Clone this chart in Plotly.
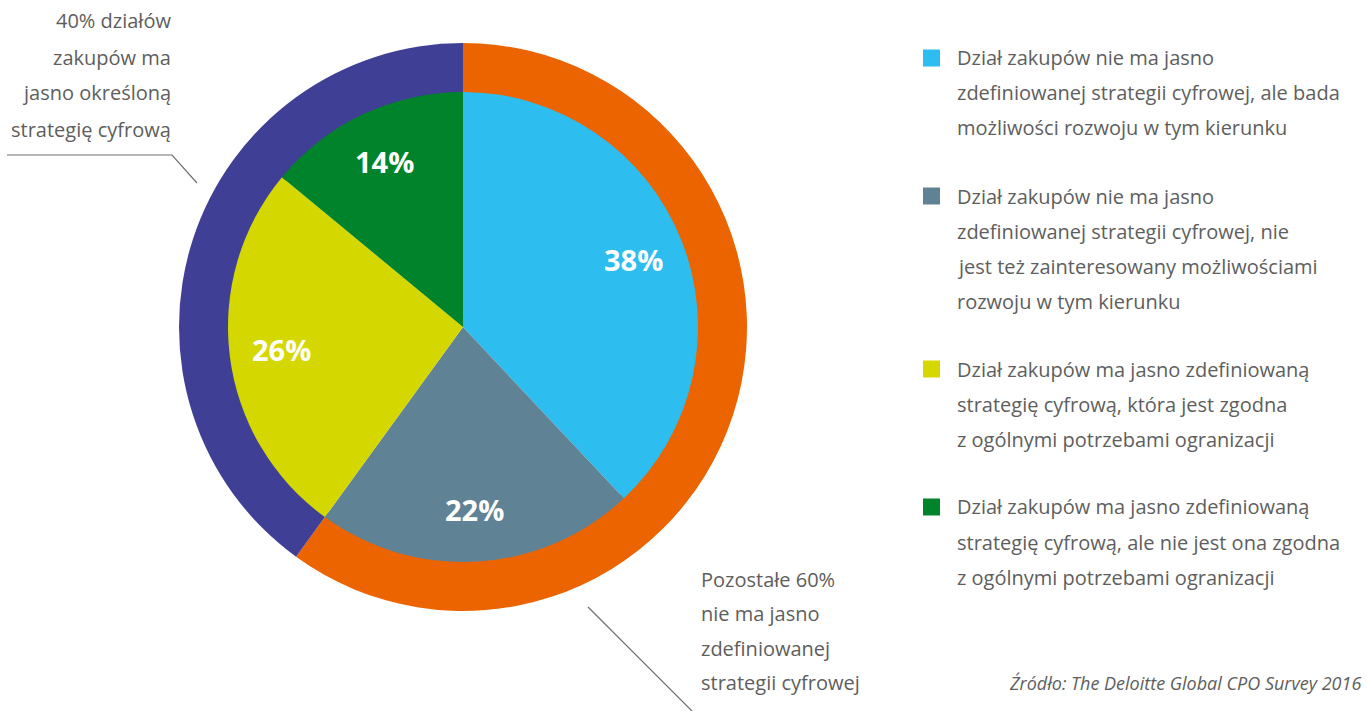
import math
import plotly.graph_objects as go

W, H = 1367, 711

# Inner pie: digital strategy of procurement departments
inner_labels = [
    "Dział zakupów nie ma jasno<br>zdefiniowanej strategii cyfrowej, ale bada<br>możliwości rozwoju w tym kierunku",
    "Dział zakupów nie ma jasno<br>zdefiniowanej strategii cyfrowej, nie<br>jest też zainteresowany możliwościami<br>rozwoju w tym kierunku",
    "Dział zakupów ma jasno zdefiniowaną<br>strategię cyfrową, która jest zgodna<br>z ogólnymi potrzebami ogranizacji",
    "Dział zakupów ma jasno zdefiniowaną<br>strategię cyfrową, ale nie jest ona zgodna<br>z ogólnymi potrzebami ogranizacji",
]
inner_values = [38, 22, 26, 14]
inner_colors = ["#2DBDEF", "#5F8295", "#D4D700", "#00832A"]

# Outer ring: with / without a clearly defined strategy
outer_labels = ["Pozostałe 60%", "40% działów"]
outer_values = [60, 40]
outer_colors = ["#EC6400", "#3F4095"]

left_note = ["40% działów", "zakupów ma", "jasno określoną", "strategię cyfrową"]
bottom_note = ["Pozostałe 60%", "nie ma jasno", "zdefiniowanej", "strategii cyfrowej"]
source_note = "Źródło: The Deloitte Global CPO Survey 2016"

FONT = "Open Sans"
TXT = "#5E5E5E"
FS = 20

cx, cy = 463, 327
r_out, r_in = 284, 235


def dom(r):
    return dict(x=[(cx - r) / W, (cx + r) / W],
                y=[(H - cy - r) / H, (H - cy + r) / H])


def px(x):
    return x / W


def py(y):
    return 1 - y / H


fig = go.Figure()
fig.add_trace(go.Pie(
    labels=outer_labels, values=outer_values, sort=False, direction="clockwise",
    rotation=0, hole=0.81, domain=dom(r_out), textinfo="none",
    marker=dict(colors=outer_colors, line=dict(width=0)), showlegend=False,
    hoverinfo="skip",
))
fig.add_trace(go.Pie(
    labels=inner_labels, values=inner_values, sort=False, direction="clockwise",
    rotation=0, domain=dom(r_in), textinfo="none",
    marker=dict(colors=inner_colors, line=dict(width=0)), showlegend=False,
))

ann = []
shapes = []

# Percentage labels placed at the middle angle of each slice
total = sum(inner_values)
cum = 0
for v in inner_values:
    mid = (cum + v / 2) / total * 2 * math.pi
    cum += v
    rr = 0.78 * r_in
    lx = cx + rr * math.sin(mid)
    ly = cy - rr * math.cos(mid)
    ann.append(dict(x=px(lx), y=py(ly), xref="paper", yref="paper", showarrow=False,
                    text=f"<b>{v}%</b>", xanchor="center", yanchor="middle",
                    font=dict(family=FONT, size=29, color="white")))

text_ann = []
# Legend blocks
y = 58
for lab, col in zip(inner_labels, inner_colors):
    shapes.append(dict(type="rect", xref="paper", yref="paper",
                       x0=px(923), x1=px(940), y0=py(y - 8.5), y1=py(y + 8.5),
                       fillcolor=col, line=dict(width=0)))
    for line in lab.split("<br>"):
        text_ann.append(dict(x=px(955), y=py(y), text=line, xanchor="left", yanchor="middle"))
        y += 35
    y += 33

# Left note with leader line
for i, line in enumerate(left_note):
    text_ann.append(dict(x=px(173), y=py(21 + 36 * i), text=line, xanchor="right", yanchor="middle"))
shapes.append(dict(type="path", xref="paper", yref="paper",
                   path=f"M {px(7)} {py(155)} L {px(172)} {py(155)} L {px(197)} {py(183)}",
                   line=dict(color="#707070", width=1.2)))

# Bottom note with leader line
for i, line in enumerate(bottom_note):
    text_ann.append(dict(x=px(699), y=py(579 + 34.5 * i), text=line, xanchor="left", yanchor="middle"))
shapes.append(dict(type="line", xref="paper", yref="paper",
                   x0=px(588), y0=py(607), x1=px(693), y1=py(712),
                   line=dict(color="#707070", width=1.2)))

for a in text_ann:
    a.update(xref="paper", yref="paper", showarrow=False,
             font=dict(family=FONT, size=FS, color=TXT))
ann += text_ann

ann.append(dict(x=px(1363), y=py(683), xref="paper", yref="paper", showarrow=False,
                text=f"<i>{source_note}</i>", xanchor="right", yanchor="middle",
                font=dict(family=FONT, size=18, color=TXT)))

fig.update_layout(
    width=W, height=H, margin=dict(l=0, r=0, t=0, b=0),
    paper_bgcolor="white", plot_bgcolor="white",
    annotations=ann, shapes=shapes,
)

fig.write_html("out.html")
